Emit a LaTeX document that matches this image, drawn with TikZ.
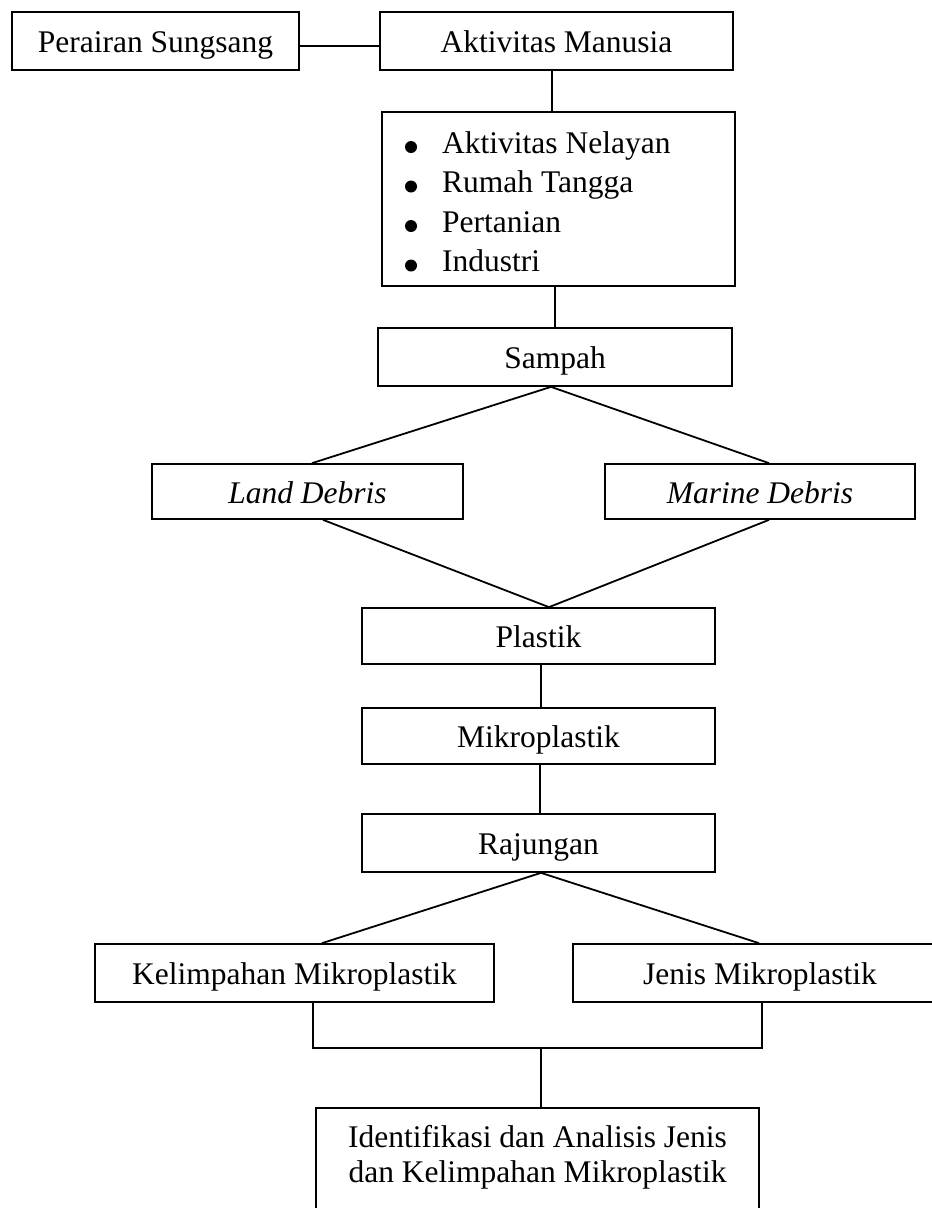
\documentclass[tikz,border=0pt]{standalone}
\usepackage{fontspec}
\setmainfont{Liberation Serif}
\begin{document}
\begin{tikzpicture}[x=1pt,y=-1pt,
  every node/.style={font=\fontsize{31.5}{39.5}\selectfont},
  box/.style={draw, line width=1.7pt, inner sep=0pt, text height=30pt, text depth=7pt},
  plainbox/.style={draw, line width=1.7pt, inner sep=0pt},
  conn/.style={line width=1.8pt},
  dotmark/.style={fill=black}]
\useasboundingbox (0,0) rectangle (932,1208);
% boxes
\node[box, minimum width=287, minimum height=58] (peri) at (155.5,41) {Perairan Sungsang};
\node[box, minimum width=353, minimum height=58] (akt) at (556.5,41) {Aktivitas Manusia};
\node[plainbox, minimum width=353, minimum height=174] (list) at (558.5,199) {};
\node[anchor=base west, inner sep=0pt] (listtxt) at (442,153)
  {\begin{tabular}[t]{@{}l@{}}
   Aktivitas Nelayan\\
   Rumah Tangga\\
   Pertanian\\
   Industri
   \end{tabular}};
\foreach \yy in {147,186.5,226,265.5} \fill[dotmark] (411,\yy) circle (6pt);
\node[box, minimum width=354, minimum height=58] (samp) at (555,357) {Sampah};
\node[box, minimum width=311, minimum height=55] (land) at (307.5,491.5) {\itshape Land Debris};
\node[box, minimum width=310, minimum height=55] (mar) at (760,491.5) {\itshape Marine Debris};
\node[box, minimum width=353, minimum height=56] (plas) at (538.5,636) {Plastik};
\node[box, minimum width=353, minimum height=56] (mikro) at (538.5,736) {Mikroplastik};
\node[box, minimum width=353, minimum height=58] (raj) at (538.5,843) {Rajungan};
\node[box, minimum width=399, minimum height=58] (kel) at (294.5,973) {Kelimpahan Mikroplastik};
\node[box, minimum width=374, minimum height=58] (jen) at (760,973) {Jenis Mikroplastik};
\node[plainbox, minimum width=443, minimum height=140, anchor=north] (iden) at (537.5,1107) {};
\node[anchor=base, inner sep=0pt, font=\fontsize{31.5}{35.7}\selectfont] (identxt) at (537.5,1147)
  {\begin{tabular}[t]{@{}c@{}}Identifikasi dan Analisis Jenis\\dan Kelimpahan Mikroplastik\end{tabular}};
% connectors
\draw[conn] (peri.east |- 0,46) -- (akt.west |- 0,46);
\draw[conn] (akt.south -| 552,0) -- (list.north -| 552,0);
\draw[conn] (list.south -| 555,0) -- (samp.north -| 555,0);
\draw[conn] (samp.south -| 551,0) -- (land.north -| 312,0);
\draw[conn] (samp.south -| 551,0) -- (mar.north -| 769,0);
\draw[conn] (land.south -| 323,0) -- (plas.north -| 549,0);
\draw[conn] (mar.south -| 769,0) -- (plas.north -| 549,0);
\draw[conn] (plas.south -| 541,0) -- (mikro.north -| 541,0);
\draw[conn] (mikro.south -| 540,0) -- (raj.north -| 540,0);
\draw[conn] (raj.south -| 541,0) -- (kel.north -| 322,0);
\draw[conn] (raj.south -| 541,0) -- (jen.north -| 759,0);
\coordinate (join) at (541,1048);
\draw[conn] (kel.south -| 313,0) |- (join) -| (jen.south -| 762,0);
\draw[conn] (join) -- (iden.north -| join);
\end{tikzpicture}
\end{document}
